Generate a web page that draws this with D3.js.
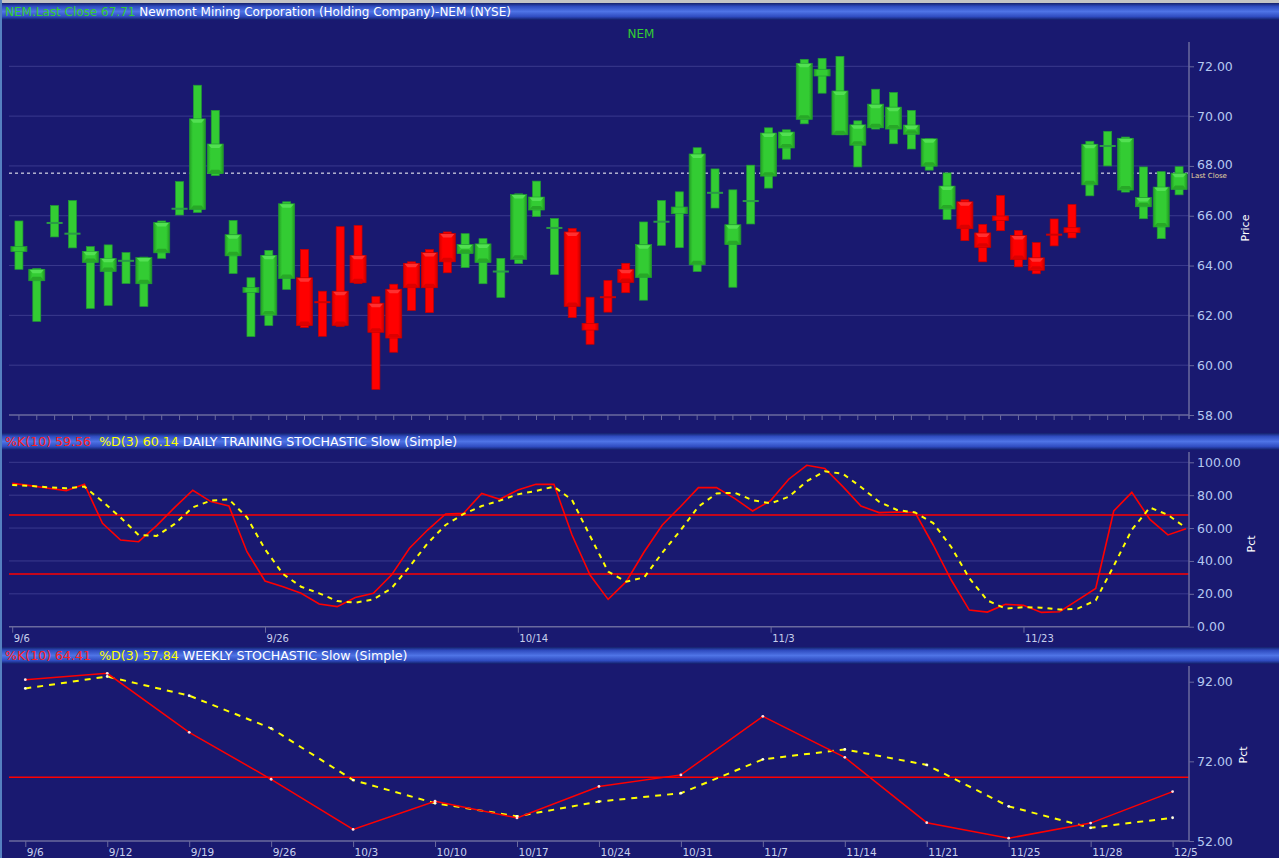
<!DOCTYPE html>
<html>
<head>
<meta charset="utf-8">
<script src="https://cdn.jsdelivr.net/npm/d3@7"></script>
<style>
  body { margin: 0; background: #191970; overflow: hidden; }
  svg { display: block; font-family: "DejaVu Sans", Verdana, sans-serif; }
</style>
</head>
<body>
<svg id="chart" width="1279" height="858"></svg>
<script>
// daily sessions
const dates = ['9/6','9/7','9/8','9/9','9/12','9/13','9/14','9/15','9/16','9/19','9/20','9/21','9/22','9/23',
  '9/26','9/27','9/28','9/29','9/30','10/3','10/4','10/5','10/6','10/7','10/10','10/11','10/12','10/13',
  '10/14','10/17','10/18','10/19','10/20','10/21','10/24','10/25','10/26','10/27','10/28','10/31','11/1','11/2',
  '11/3','11/4','11/7','11/8','11/9','11/10','11/11','11/14','11/15','11/16','11/17','11/18','11/21','11/22',
  '11/23','11/25','11/28','11/29','11/30','12/1','12/2','12/5','12/6','12/7']
const opens = [64.56,63.39,65.70,65.27,64.12,63.76,64.18,63.27,64.51,66.27, 66.25,67.69,64.39,62.92,62.01,63.48,63.51,62.54,62.97,64.41,
  62.49,63.05,64.09,64.52,65.29,64.48,64.12,63.75,64.25,66.23, 65.50,65.35,61.68,62.74,63.85,63.52,65.75,66.08,64.03,66.91,
  64.84,66.58,67.59,68.72,69.87,71.61,69.25,68.83,69.53,69.48, 69.27,67.99,66.27,66.56,65.31,65.99,65.21,64.31,65.25,65.52,
  67.24,68.79,67.03,66.36,65.55,67.05]
const highs = [65.79,63.88,66.41,66.61,64.76,64.83,64.52,64.34,65.79,67.37, 71.24,70.23,65.81,63.51,64.61,66.56,64.65,62.97,65.56,65.61,
  62.75,63.25,64.15,64.64,65.35,65.28,65.08,64.29,66.88,67.39, 65.89,65.49,62.73,63.40,64.09,65.75,66.61,66.96,68.73,67.88,
  67.04,68.03,69.53,69.45,72.28,72.32,72.40,69.81,71.08,70.95, 70.23,69.09,67.72,66.64,65.65,66.81,65.41,64.92,65.87,66.45,
  68.99,69.39,69.16,67.96,67.77,67.97]
const lows = [63.85,61.76,65.15,64.71,62.28,62.40,63.28,62.36,64.29,66.03, 66.13,67.61,63.68,61.15,61.59,63.04,61.51,61.16,61.56,63.28,
  59.03,60.52,62.20,62.11,63.71,63.92,63.27,62.72,64.08,65.97, 63.64,61.91,60.84,62.13,62.91,62.61,64.81,64.72,63.76,66.31,
  63.13,65.67,67.11,68.27,69.69,70.92,69.25,67.96,69.48,68.89, 68.68,67.83,65.85,65.00,64.15,65.40,63.95,63.67,64.79,65.11,
  66.80,68.00,66.95,65.88,65.08,66.84]
const closes = [64.76,63.85,65.72,65.29,64.57,64.29,64.20,64.32,65.73,66.29, 69.89,68.88,65.24,63.12,64.41,66.48,61.59,62.52,61.59,63.31,
  61.32,61.09,63.11,63.11,64.15,64.85,64.87,63.77,66.85,66.75, 65.52,62.36,61.41,62.72,63.32,64.84,65.77,66.35,68.48,66.93,
  65.64,66.60,69.32,69.36,72.12,71.88,71.01,69.65,70.48,70.36, 69.64,69.09,67.19,65.48,64.73,65.81,64.24,63.81,65.23,65.32,
  68.87,68.81,69.11,66.73,67.15,67.71]

// daily stochastic
const dailyK = [87.2,85.8,84.2,82.8,86.6,62.9,52.7,51.7,61.5,72.6, 83.0,76.1,73.4,45.6,27.8,24.3,20.3,13.8,12.2,17.8,
  20.3,31.4,47.7,58.8,68.6,69.0,81.1,77.5,83.2,86.6, 86.6,55.8,31.4,16.6,27.4,45.6,61.9,73.0,84.6,84.6,
  78.1,70.4,76.7,89.7,98.2,96.3,85.2,73.4,69.4,69.8, 69.4,49.7,28.4,10.1,8.9,13.6,13.0,8.7,9.1,16.2,
  23.3,70.4,81.7,65.3,55.8,59.56]
const dailyD = [86.2,85.6,84.8,84.2,85.2,76.1,66.5,55.8,55.2,62.5, 72.6,76.7,77.5,66.5,47.1,32.0,24.3,20.3,15.6,14.6,
  16.6,23.3,36.5,50.7,61.9,68.6,73.4,76.7,80.5,82.6, 85.2,77.1,55.2,33.5,27.4,30.0,45.0,58.5,73.0,81.0,
  81.5,77.0,75.0,79.0,88.5,94.5,93.0,85.0,76.0,71.0, 69.5,63.0,48.5,29.5,16.0,11.0,11.8,11.6,10.4,11.0,
  16.0,37.0,59.0,72.5,68.0,60.14]

// weekly stochastic
const weekDates = ['9/6','9/12','9/19','9/26','10/3','10/10','10/17','10/24','10/31','11/7','11/14','11/21','11/25','11/28','12/5']
const weeklyK = [92.5,94.1,79.3,67.5,54.9,62.0,57.8,65.7,68.6,83.3,73.0,56.6,52.7,56.5,64.41]
const weeklyD = [90.3,93.3,88.5,80.3,67.3,61.5,58.2,61.9,64.0,72.5,75.0,71.1,60.7,55.3,57.84]

// ticks / levels
const priceTicks = [58,60,62,64,66,68,70,72]
const dailyTicks = [0,20,40,60,80,100]
const weeklyTicks = [52,72,92]
const dailyLabels = ['9/6','9/26','10/14','11/3','11/23']
const dailyLevels = [32,68]
const weeklyLevels = [68]

const svg = d3.select('#chart')
const W = 1279
const BG = '#191970', GRID = '#3a3a8e', AXIS = '#6a6a9e', LBL = '#b4c8f0'
const NB = '\u00a0'

// ---- defs
const defs = svg.append('defs')
let bar = defs.append('linearGradient').attr('id', 'barG').attr('x1', 0).attr('y1', 0).attr('x2', 0).attr('y2', 1)
;[['0', '#14206a'], ['0.2', '#2f4cc0'], ['0.5', '#4f74e6'], ['0.8', '#2f4cc0'], ['1', '#121c66']]
  .forEach(s => bar.append('stop').attr('offset', s[0]).attr('stop-color', s[1]))
let up = defs.append('linearGradient').attr('id', 'upG')
;[['0', '#23a023'], ['0.22', '#33cc33'], ['0.78', '#33cc33'], ['1', '#229622']]
  .forEach(s => up.append('stop').attr('offset', s[0]).attr('stop-color', s[1]))
let dn = defs.append('linearGradient').attr('id', 'dnG')
;[['0', '#d40000'], ['0.22', '#ff0000'], ['0.78', '#ff0000'], ['1', '#c80000']]
  .forEach(s => dn.append('stop').attr('offset', s[0]).attr('stop-color', s[1]))

svg.append('rect').attr('width', W).attr('height', 858).attr('fill', BG)
svg.append('rect').attr('width', W).attr('height', 3).attr('fill', '#c4c4c4')
svg.append('rect').attr('x', 0).attr('y', 0).attr('width', 2).attr('height', 858).attr('fill', '#5580c0')

function headerBar(y, parts, fs) {
    svg.append('rect').attr('x', 2).attr('y', y).attr('width', W - 2).attr('height', 17).attr('fill', 'url(#barG)')
    let t = svg.append('text').attr('x', 5).attr('y', y + 13).style('font-size', fs + 'px')
    parts.forEach(p => t.append('tspan').attr('fill', p[1]).text(p[0]))
}

// ---- scales
const xC = d3.scaleBand().domain(dates).range([10, 1188]).paddingInner(0.1).paddingOuter(0.05)
const yP = d3.scaleLinear().domain([58, 72]).range([415, 66.3])
const xS = d3.scalePoint().domain(dates).range([12.2, 1186])
const yD = d3.scaleLinear().domain([0, 100]).range([626.7, 462.3])
const xW = d3.scalePoint().domain(weekDates).range([25.3, 1172.6])
const yW = d3.scaleLinear().domain([52, 92]).range([841, 681.7])
const AX = 1189

// ================= PRICE PANEL
const lastClose = closes[closes.length - 1]
headerBar(3, [['NEM.Last Close ' + lastClose.toFixed(2), '#33cc33'], [NB + 'Newmont Mining Corporation (Holding Company)-NEM (NYSE)', '#ffffff']], 12)

svg.append('text').attr('x', 641).attr('y', 38).attr('text-anchor', 'middle')
    .attr('fill', '#33cc33').style('font-size', '12px').text('NEM')

svg.append('g').selectAll('line').data(priceTicks.slice(1)).join('line')
    .attr('x1', 9).attr('x2', AX).attr('y1', d => yP(d)).attr('y2', d => yP(d))
    .attr('stroke', GRID).attr('stroke-width', 1)

// last close dashed line
svg.append('line').attr('x1', 9).attr('x2', AX).attr('y1', yP(lastClose)).attr('y2', yP(lastClose))
    .attr('stroke', '#ffffff').attr('stroke-width', 1).attr('stroke-dasharray', '3,3')
svg.append('text').attr('x', AX + 2).attr('y', yP(lastClose) + 4.5).attr('fill', '#e6d6a0')
    .style('font-size', '7px').text('Last Close')

// candles
const bars = dates.map((d, i) => ({ d: d, o: opens[i], h: highs[i], l: lows[i], c: closes[i] }))
const cw = xC.bandwidth(), ww = 8
const cg = svg.append('g')
bars.forEach(b => {
    const upBar = b.c >= b.o
    const col = upBar ? '#33cc33' : '#ff0000'
    const edge = upBar ? '#229a36' : '#c40000'
    const x0 = xC(b.d), xm = x0 + cw / 2
    cg.append('rect').attr('x', xm - ww / 2).attr('y', yP(b.h)).attr('width', ww)
        .attr('height', Math.max(1, yP(b.l) - yP(b.h))).attr('fill', col)
        .attr('stroke', edge).attr('stroke-width', 0.7)
    const top = yP(Math.max(b.o, b.c)), bot = yP(Math.min(b.o, b.c))
    if (bot - top < 2) {
        cg.append('rect').attr('x', x0).attr('y', (top + bot) / 2 - 1).attr('width', cw).attr('height', 2)
            .attr('fill', upBar ? '#2a9a46' : '#d00000')
        return
    }
    cg.append('rect').attr('x', x0).attr('y', top).attr('width', cw).attr('height', bot - top)
        .attr('fill', upBar ? 'url(#upG)' : 'url(#dnG)').attr('stroke', edge).attr('stroke-width', 0.7)
    if (bot - top >= 7) {
        cg.append('path').attr('d', `M${x0 + 1},${top + 0.5}H${x0 + cw - 1}L${x0 + cw - 4},${top + 4}H${x0 + 4}Z`)
            .attr('fill', upBar ? '#52e052' : '#ff3030')
        cg.append('path').attr('d', `M${x0 + 1},${bot - 0.5}H${x0 + cw - 1}L${x0 + cw - 4},${bot - 4}H${x0 + 4}Z`)
            .attr('fill', upBar ? '#27a827' : '#dc0000')
    }
})

// price axes
svg.append('line').attr('x1', 9).attr('x2', AX).attr('y1', 415).attr('y2', 415).attr('stroke', AXIS).attr('stroke-width', 1.5)
svg.append('line').attr('x1', AX).attr('x2', AX).attr('y1', 42).attr('y2', 419).attr('stroke', AXIS).attr('stroke-width', 1.5)
const pxAxis = svg.append('g').attr('transform', 'translate(0,415)')
    .call(d3.axisBottom(xC).tickSize(5).tickFormat(''))
pxAxis.select('.domain').remove()
pxAxis.selectAll('line').attr('stroke', AXIS)

function yAxis(scale, ticks, fs) {
    const g = svg.append('g').attr('transform', `translate(${AX},0)`)
        .call(d3.axisRight(scale).tickValues(ticks).tickSize(5).tickPadding(3).tickFormat(d3.format('.2f')))
    g.select('.domain').remove()
    g.selectAll('line').attr('stroke', AXIS)
    g.selectAll('text').attr('fill', LBL).style('font-size', (fs || 12.5) + 'px')
        .style('font-family', '"DejaVu Sans", Verdana, sans-serif')
    return g
}
const pyAxis = yAxis(yP, priceTicks)
// keep the 68.00 label clear of the "Last Close" tag just below it
pyAxis.selectAll('text').filter(d => d === 68).attr('dy', '0.2em')

function sideLabel(txt, x, y) {
    svg.append('text').attr('transform', `translate(${x},${y}) rotate(-90)`).attr('text-anchor', 'middle')
        .attr('fill', '#ffffff').style('font-size', '11px').text(txt)
}
sideLabel('Price', 1249, 228)

// ================= DAILY STOCHASTIC
headerBar(433, [['%K(10) ' + dailyK[dailyK.length - 1].toFixed(2), '#ff2020'], [NB + NB + '%D(3) ' + dailyD[dailyD.length - 1].toFixed(2), '#ffff00'],
    [NB + 'DAILY TRAINING STOCHASTIC Slow (Simple)', '#ffffff']], 12.6)

svg.append('g').selectAll('line').data(dailyTicks.slice(1)).join('line')
    .attr('x1', 9).attr('x2', AX).attr('y1', d => yD(d)).attr('y2', d => yD(d))
    .attr('stroke', GRID)
svg.append('g').selectAll('line').data(dailyLevels).join('line')
    .attr('x1', 9).attr('x2', AX).attr('y1', d => yD(d)).attr('y2', d => yD(d))
    .attr('stroke', '#ff0000').attr('stroke-width', 1.5)

svg.append('path').datum(dailyK)
    .attr('d', d3.line().x((d, i) => xS(dates[i])).y(d => yD(d)))
    .attr('fill', 'none').attr('stroke', '#ff0000').attr('stroke-width', 1.6)
svg.append('path').datum(dailyD)
    .attr('d', d3.line().x((d, i) => xS(dates[i])).y(d => yD(d)))
    .attr('fill', 'none').attr('stroke', '#ffff00').attr('stroke-width', 2).attr('stroke-dasharray', '5,5')

svg.append('line').attr('x1', 9).attr('x2', AX).attr('y1', yD(0)).attr('y2', yD(0)).attr('stroke', AXIS).attr('stroke-width', 1.5)
svg.append('line').attr('x1', AX).attr('x2', AX).attr('y1', 452).attr('y2', yD(0)).attr('stroke', AXIS).attr('stroke-width', 1.5)
const dx = svg.append('g').attr('transform', `translate(0,${yD(0)})`)
    .call(d3.axisBottom(xS).tickValues(dailyLabels).tickSize(6).tickPadding(2))
dx.select('.domain').remove()
dx.selectAll('line').attr('stroke', AXIS)
dx.selectAll('text').attr('fill', '#c8d0ec').attr('text-anchor', 'start').attr('dx', 1)
    .style('font-size', '10px').style('font-family', '"DejaVu Sans", Verdana, sans-serif')
yAxis(yD, dailyTicks)
sideLabel('Pct', 1255, 544)

// ================= WEEKLY STOCHASTIC
headerBar(647, [['%K(10) ' + weeklyK[weeklyK.length - 1].toFixed(2), '#ff2020'], [NB + NB + '%D(3) ' + weeklyD[weeklyD.length - 1].toFixed(2), '#ffff00'],
    [NB + 'WEEKLY STOCHASTIC Slow (Simple)', '#ffffff']], 12.6)

svg.append('g').selectAll('line').data(weeklyLevels).join('line')
    .attr('x1', 9).attr('x2', AX).attr('y1', d => yW(d)).attr('y2', d => yW(d))
    .attr('stroke', '#ff0000').attr('stroke-width', 1.5)

svg.append('path').datum(weeklyD)
    .attr('d', d3.line().x((d, i) => xW(weekDates[i])).y(d => yW(d)))
    .attr('fill', 'none').attr('stroke', '#ffff00').attr('stroke-width', 2).attr('stroke-dasharray', '6,6')
svg.append('path').datum(weeklyK)
    .attr('d', d3.line().x((d, i) => xW(weekDates[i])).y(d => yW(d)))
    .attr('fill', 'none').attr('stroke', '#ff0000').attr('stroke-width', 1.5)
svg.append('g').selectAll('circle').data(weeklyD).join('circle')
    .attr('cx', (d, i) => xW(weekDates[i])).attr('cy', d => yW(d)).attr('r', 1.4).attr('fill', '#ffffe0')
svg.append('g').selectAll('circle').data(weeklyK).join('circle')
    .attr('cx', (d, i) => xW(weekDates[i])).attr('cy', d => yW(d)).attr('r', 1.4).attr('fill', '#ffe0e0')

svg.append('line').attr('x1', 9).attr('x2', AX).attr('y1', yW(52)).attr('y2', yW(52)).attr('stroke', AXIS).attr('stroke-width', 1.5)
svg.append('line').attr('x1', AX).attr('x2', AX).attr('y1', 666).attr('y2', yW(52)).attr('stroke', AXIS).attr('stroke-width', 1.5)
const wx = svg.append('g').attr('transform', `translate(0,${yW(52)})`)
    .call(d3.axisBottom(xW).tickSize(6).tickPadding(2))
wx.select('.domain').remove()
wx.selectAll('line').attr('stroke', AXIS)
wx.selectAll('text').attr('fill', '#c8d0ec').attr('text-anchor', 'start').attr('dx', 1)
    .style('font-size', '10.5px').style('font-family', '"DejaVu Sans", Verdana, sans-serif')
yAxis(yW, weeklyTicks)
sideLabel('Pct', 1247, 755)
</script>
</body>
</html>
